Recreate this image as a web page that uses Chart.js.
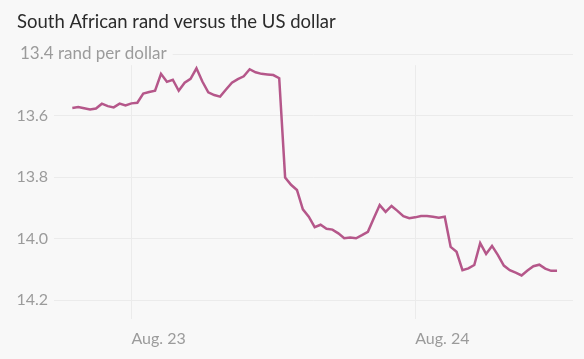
<!DOCTYPE html>
<html>
<head>
<meta charset="utf-8">
<script src="https://cdn.jsdelivr.net/npm/chart.js@4/dist/chart.umd.min.js"></script>
<style>
  html, body { margin: 0; padding: 0; background: #f8f8f8; }
</style>
</head>
<body>
<canvas id="randChart" width="584" height="359"></canvas>
<script>
// données (rand pour 1 dollar, toutes les 30 min)
const chartTitle = 'South African rand versus the US dollar';
const yUnit = 'rand per dollar';
const startHour = -5;   // 22 août, 19h00
const stepHours = 0.5;
const randPerDollar = [
  13.575, 13.572, 13.576, 13.580, 13.577, 13.561, 13.569, 13.573, 13.561, 13.567,
  13.560, 13.558, 13.528, 13.523, 13.519, 13.464, 13.490, 13.483, 13.519, 13.493,
  13.480, 13.446, 13.489, 13.524, 13.533, 13.538, 13.515, 13.493, 13.481, 13.472,
  13.449, 13.459, 13.464, 13.466, 13.468, 13.478, 13.801, 13.825, 13.842, 13.905,
  13.929, 13.963, 13.955, 13.968, 13.971, 13.983, 13.999, 13.997, 13.999, 13.989,
  13.978, 13.934, 13.891, 13.913, 13.894, 13.910, 13.927, 13.934, 13.931, 13.927,
  13.927, 13.929, 13.932, 13.929, 14.027, 14.043, 14.103, 14.097, 14.086, 14.015,
  14.050, 14.024, 14.054, 14.088, 14.103, 14.111, 14.120, 14.104, 14.090, 14.085,
  14.098, 14.105, 14.105
];
const yTicks = [13.4, 13.6, 13.8, 14.0, 14.2];
const xTickHours = [0, 24];
const xTickLabels = ['Aug. 23', 'Aug. 24'];

const bgColor = '#f8f8f8';
const gridColor = '#ebebeb';
const labelColor = '#9b9b9b';
const tickFont = { family: 'Lato', size: 16 };

const points = randPerDollar.map((v, i) => ({ x: startHour + i * stepHours, y: v }));

// étiquette du haut + lignes verticales qui ne montent pas jusqu'en haut
const quartzPlugin = {
    id: 'quartz',
    beforeDatasetsDraw(chart) {
        const c = chart.ctx;
        const area = chart.chartArea;
        const xs = chart.scales.x;
        const ys = chart.scales.y;

        c.save();
        c.strokeStyle = gridColor;
        c.lineWidth = 1;
        xTickHours.forEach(h => {
            const px = Math.round(xs.getPixelForValue(h)) + 0.5;
            c.beginPath();
            c.moveTo(px, area.top + 11);
            c.lineTo(px, area.bottom + 19);
            c.stroke();
        });

        const label = yTicks[0].toFixed(1) + ' ' + yUnit;
        const py = ys.getPixelForValue(yTicks[0]);
        c.font = '17px ' + tickFont.family;
        const w = c.measureText(label).width;
        c.fillStyle = bgColor;
        c.fillRect(0, py - 4, 20 + w + 6, 8);
        c.fillStyle = labelColor;
        c.textBaseline = 'middle';
        c.textAlign = 'left';
        c.fillText(label, 20, py - 1);
        c.restore();
    }
};

new Chart(document.getElementById('randChart'), {
    type: 'line',
    data: {
        datasets: [{
            data: points,
            borderColor: '#b5578a',
            borderWidth: 2.5,
            pointRadius: 0,
            tension: 0,
            fill: false
        }]
    },
    options: {
        responsive: false,
        devicePixelRatio: 1,
        animation: false,
        layout: { padding: { left: 17, right: 11, top: 0, bottom: 0 } },
        plugins: {
            legend: { display: false },
            tooltip: { enabled: false },
            title: {
                display: true,
                text: chartTitle,
                align: 'start',
                color: '#2b2b2b',
                font: { family: 'Lato', size: 18.5, weight: 'normal' },
                padding: { top: 11, bottom: 21 }
            }
        },
        scales: {
            x: {
                type: 'linear',
                min: -6.55,
                max: 37.35,
                border: { display: false },
                grid: { display: false, drawTicks: false },
                afterBuildTicks: scale => { scale.ticks = xTickHours.map(v => ({ value: v })); },
                afterFit: scale => { scale.height = 59; },
                ticks: {
                    align: 'start',
                    padding: 29,
                    color: labelColor,
                    font: tickFont,
                    callback: value => xTickLabels[xTickHours.indexOf(value)]
                }
            },
            y: {
                reverse: true,
                min: 13.4,
                max: 14.2,
                border: { display: false },
                grid: { color: gridColor, drawTicks: false },
                afterBuildTicks: scale => { scale.ticks = yTicks.map(v => ({ value: v })); },
                afterFit: scale => { scale.width = 37; },
                ticks: {
                    padding: 6,
                    color: labelColor,
                    font: tickFont,
                    callback: value => value === yTicks[0] ? '' : value.toFixed(1)
                }
            }
        }
    },
    plugins: [quartzPlugin]
});
</script>
</body>
</html>
